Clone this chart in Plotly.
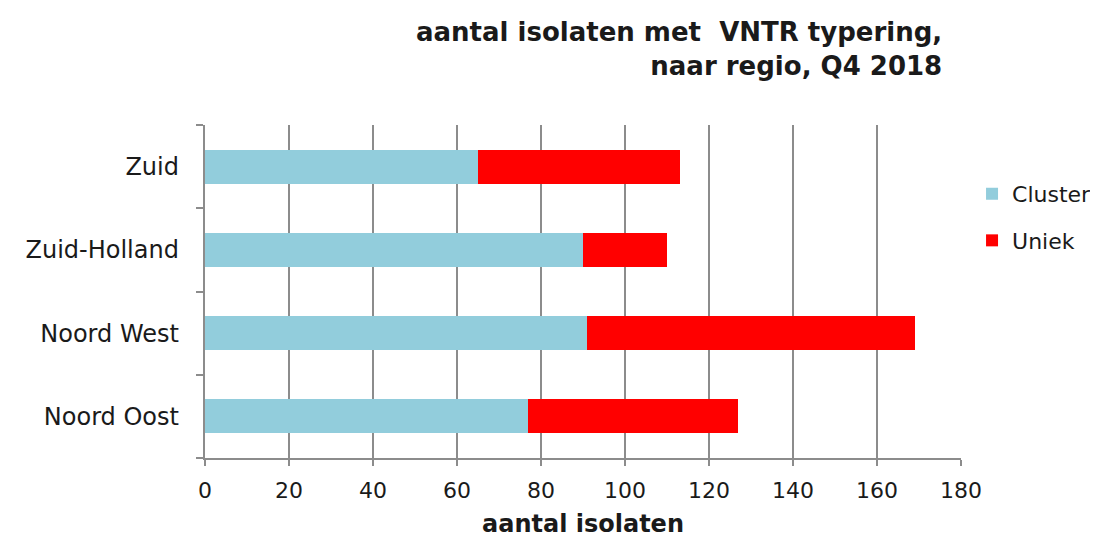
import plotly.graph_objects as go

categories = ["Noord Oost", "Noord West", "Zuid-Holland", "Zuid"]
cluster = [77, 91, 90, 65]
uniek = [50, 78, 20, 48]
x_ticks = [0, 20, 40, 60, 80, 100, 120, 140, 160, 180]

FONT = "DejaVu Sans"
TXT = "#1a1a1a"
GRID = "#8c8c8c"

# page body has an 8px default margin: compensate in the plot margins
L, T, W, H = 197, 117, 756, 333

fig = go.Figure()
fig.add_trace(go.Bar(y=categories, x=cluster, name="Cluster", orientation="h",
                     marker=dict(color="#92CDDC", line=dict(width=0)), legendgroup="a"))
fig.add_trace(go.Bar(y=categories, x=uniek, name="Uniek", orientation="h",
                     marker=dict(color="#FF0000", line=dict(width=0)), legendgroup="b"))

fig.update_layout(
    barmode="stack",
    bargap=0.59,
    width=1098, height=538,
    margin=dict(l=L, r=1098 - L - W, t=T, b=538 - T - H, autoexpand=False),
    paper_bgcolor="white", plot_bgcolor="white",
    font=dict(family=FONT, size=23, color=TXT),
    showlegend=True,
    legend=dict(x=1.0146, y=0.856, xanchor="left", yanchor="top",
                font=dict(size=22, color=TXT), tracegroupgap=15,
                itemwidth=30, bgcolor="rgba(0,0,0,0)"),
    xaxis=dict(range=[0, 180], tickvals=x_ticks, showgrid=True, gridcolor=GRID, gridwidth=2,
               showline=True, linecolor=GRID, linewidth=2, ticks="outside", ticklen=6,
               tickcolor=GRID, tickwidth=2, tickfont=dict(size=22, color=TXT), zeroline=False,
               automargin=False, ticklabelstandoff=6,
               title=dict(text="<b>aantal isolaten</b>", font=dict(size=24, color=TXT), standoff=13)),
    yaxis=dict(showline=True, linecolor=GRID, linewidth=2, ticks="outside", tickson="boundaries",
               ticklen=7, tickcolor=GRID, tickwidth=2, tickfont=dict(size=24, color=TXT),
               ticksuffix="  ", ticklabelstandoff=4, showgrid=False, automargin=False),
    annotations=[dict(text="<b>aantal isolaten met  VNTR typering,<br>naar regio, Q4 2018</b>",
                      xref="paper", yref="paper", x=(944 - 8 - L) / W, y=1.0, xanchor="right",
                      yanchor="bottom", yshift=42, align="right", showarrow=False,
                      font=dict(size=26, color=TXT, family=FONT))],
)

fig.write_html("out.html")
